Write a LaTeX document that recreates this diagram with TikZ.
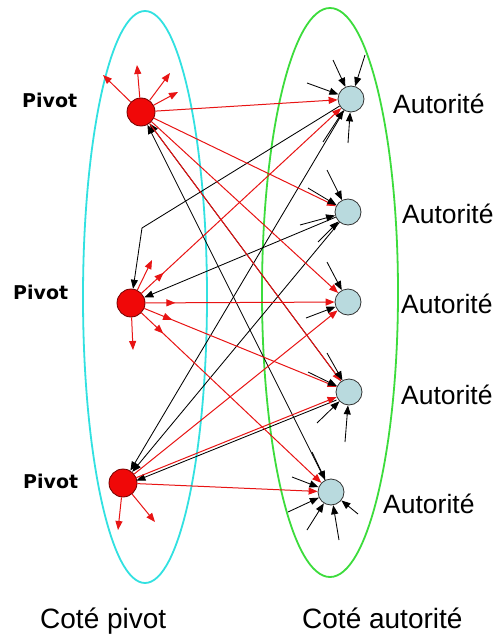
\documentclass[tikz,border=0pt]{standalone}
\usepackage{fontspec}
\setmainfont{Liberation Sans}
\newfontfamily\pivfont{DejaVu Sans}
\usetikzlibrary{arrows.meta,decorations.markings}
\definecolor{myred}{RGB}{232,20,20}
\definecolor{pivfill}{RGB}{240,8,8}
\definecolor{autfill}{RGB}{185,218,222}
\definecolor{cyanline}{RGB}{50,225,225}
\definecolor{greenline}{RGB}{60,220,60}
\begin{document}
\begin{tikzpicture}[x=1pt,y=-1pt,
  pivot/.style={circle, draw=red!45!black, fill=pivfill, minimum size=28pt, inner sep=0pt, line width=0.8pt},
  aut/.style={circle, draw=black!80, fill=autfill, minimum size=26pt, inner sep=0pt, line width=0.8pt},
  tip/.style={-{Triangle[length=9pt,width=7pt]}},
  redarr/.style={draw=myred, line width=1pt, tip, myred},
  blkarr/.style={draw=black, line width=0.85pt, tip},
  midarr/.style={postaction={decorate}, decoration={markings, mark=at position 30pt with {\arrow[myred]{Triangle[length=9pt,width=7pt]}}}},
  pivlabel/.style={anchor=base west, inner sep=0pt, font=\pivfont\bfseries\fontsize{19}{19}\selectfont},
  autlabel/.style={anchor=base west, inner sep=0pt, font=\fontsize{26.5}{26.5}\selectfont},
  sidelabel/.style={anchor=base west, inner sep=0pt, font=\fontsize{28}{28}\selectfont}]
\useasboundingbox (0,0) rectangle (500,639);
\fill[white] (0,0) rectangle (500,639);

% sides
\draw[cyanline, line width=1.8pt] (145,297) ellipse [x radius=62, y radius=286];
\draw[greenline, line width=1.8pt] (330,292.5) ellipse [x radius=68, y radius=284.5];

% nodes
\node[pivot] (P1) at (141,112) {};
\node[pivot] (P2) at (131,303) {};
\node[pivot] (P3) at (123,483) {};
\node[aut] (A1) at (351,99) {};
\node[aut] (A2) at (348,212) {};
\node[aut] (A3) at (348,302) {};
\node[aut] (A4) at (349,392) {};
\node[aut] (A5) at (331,492) {};

% labels
\node[pivlabel] (lp1) at (22,108) {Pivot};
\node[pivlabel] (lp2) at (13,299) {Pivot};
\node[pivlabel] (lp3) at (23,488) {Pivot};
\node[autlabel] (la1) at (393,114) {Autorité};
\node[autlabel] (la2) at (402,223) {Autorité};
\node[autlabel] (la3) at (401,313) {Autorité};
\node[autlabel] (la4) at (401,404) {Autorité};
\node[autlabel] (la5) at (383,513) {Autorité};
\node[sidelabel] (cp) at (40,628) {Coté pivot};
\node[sidelabel] (ca) at (302,628) {Coté autorité};

% coordinates
\coordinate (k1) at (142,228);
\coordinate (s1a) at (103,75);
\coordinate (s1b) at (137,65);
\coordinate (s1c) at (170,73);
\coordinate (s1d) at (178,92);
\coordinate (s2a) at (152,260);
\coordinate (s2b) at (133,350);
\coordinate (s3a) at (118,530);
\coordinate (s3b) at (155,522);
\coordinate (t1a) at (333,60);
\coordinate (t1b) at (365,55);
\coordinate (t1c) at (307,83);
\coordinate (t1d) at (323,142);
\coordinate (t1e) at (348,143);
\coordinate (t2a) at (327,170);
\coordinate (t2b) at (308,188);
\coordinate (t2c) at (300,225);
\coordinate (t2d) at (318,242);
\coordinate (t3a) at (327,262);
\coordinate (t3b) at (306,318);
\coordinate (t4a) at (327,353);
\coordinate (t4b) at (308,372);
\coordinate (t4c) at (317,423);
\coordinate (t4d) at (345,442);
\coordinate (t5a) at (312,452);
\coordinate (t5b) at (292,477);
\coordinate (t5c) at (288,512);
\coordinate (t5d) at (307,530);
\coordinate (t5e) at (339,540);
\coordinate (t5f) at (358,514);

% black edges (authority -> pivot)
\draw[blkarr] (A1) -- (k1) -- (P2);
\draw[blkarr] (A1) -- (P3);
\draw[blkarr] (A2) -- (P3);
\draw[blkarr] (A2) -- (P2);
\draw[blkarr] (A4) -- (P1);
\draw[blkarr] (A5) -- (P1);
\draw[blkarr, transform canvas={yshift=-3pt}] (A4) -- (P3);

% red edges (pivot -> authority)
\draw[redarr] (P1) -- (A1);
\draw[redarr] (P1) -- (A2);
\draw[redarr] (P1) -- (A3);
\draw[redarr] (P1) -- (A4);
\draw[redarr, midarr] (P2) -- (A1);
\draw[redarr, midarr] (P2) -- (A3);
\draw[redarr, midarr] (P2) -- (A4);
\draw[redarr, midarr] (P2) -- (A5);
\draw[redarr] (P3) -- (A3);
\draw[redarr] (P3) -- (A4);
\draw[redarr] (P3) -- (A5);

% red stubs out of pivots
\foreach \s in {s1a,s1b,s1c,s1d} \draw[redarr] (P1) -- (\s);
\foreach \s in {s2a,s2b} \draw[redarr] (P2) -- (\s);
\foreach \s in {s3a,s3b} \draw[redarr] (P3) -- (\s);

% black stubs into authorities
\foreach \s in {t1a,t1b,t1c,t1d,t1e} \draw[blkarr] (\s) -- (A1);
\foreach \s in {t2a,t2b,t2c,t2d} \draw[blkarr] (\s) -- (A2);
\foreach \s in {t3a,t3b} \draw[blkarr] (\s) -- (A3);
\foreach \s in {t4a,t4b,t4c,t4d} \draw[blkarr] (\s) -- (A4);
\foreach \s in {t5a,t5b,t5c,t5d,t5e,t5f} \draw[blkarr] (\s) -- (A5);
\end{tikzpicture}
\end{document}
